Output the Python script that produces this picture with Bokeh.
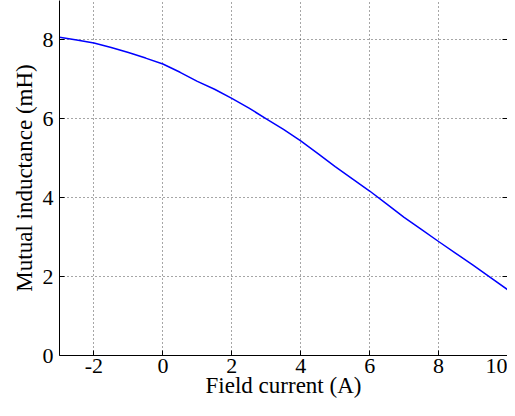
from bokeh.plotting import figure
from bokeh.models import LinearAxis, Range1d, FixedTicker
from bokeh.embed import file_html
from bokeh.resources import INLINE

# Field current (A)
current = [-3.0, -2.5, -2.0, -1.5, -1.0, -0.5, 0.0, 0.5, 1.0, 1.5, 2.0, 2.5, 3.0,
           3.5, 4.0, 4.5, 5.0, 5.5, 6.0, 6.5, 7.0, 7.5, 8.0, 8.5, 9.0, 9.5, 10.0]
# Mutual inductance (mH)
inductance = [8.07, 8.00, 7.92, 7.81, 7.68, 7.54, 7.39, 7.18, 6.95, 6.75, 6.52, 6.27, 6.00,
              5.73, 5.44, 5.12, 4.79, 4.48, 4.17, 3.84, 3.50, 3.20, 2.89, 2.59, 2.29, 1.98, 1.67]

x_ticks = [-2, 0, 2, 4, 6, 8, 10]
x_tick_labels = {-2: "-2", 0: "0", 2: "2", 4: "4", 6: "6", 8: "8", 10: "10"}
y_ticks = [0, 2, 4, 6, 8]

FONT = "Liberation Serif"

p = figure(width=507, height=400, output_backend="svg", toolbar_location=None,
           x_range=Range1d(-3, 10), y_range=Range1d(0, 9.0),
           min_border_left=59, min_border_right=0, min_border_top=0, min_border_bottom=40)
p.outline_line_color = None
p.background_fill_color = "white"
p.border_fill_color = "white"

p.line(current, inductance, line_color="#0000ff", line_width=1.5)

for ax in (p.xaxis[0], p.yaxis[0]):
    ax.major_tick_in = 5
    ax.major_tick_out = 0
    ax.minor_tick_line_color = None
    ax.axis_line_color = "black"
    ax.major_tick_line_color = "black"
    ax.major_label_text_font = FONT
    ax.major_label_text_font_size = "22px"
    ax.major_label_text_color = "black"
    ax.axis_label_text_font = FONT
    ax.axis_label_text_font_size = "23px"
    ax.axis_label_text_font_style = "normal"
    ax.axis_label_text_color = "black"

p.xaxis[0].ticker = FixedTicker(ticks=x_ticks)
p.xaxis[0].major_label_overrides = x_tick_labels
p.yaxis[0].ticker = FixedTicker(ticks=y_ticks)
p.xaxis[0].axis_label = "Field current (A)"
p.yaxis[0].axis_label = "Mutual inductance (mH)"
p.xaxis[0].major_label_standoff = 3
p.xaxis[0].axis_label_standoff = -3
p.yaxis[0].major_label_standoff = 6
p.yaxis[0].axis_label_standoff = 3

right = LinearAxis(ticker=FixedTicker(ticks=y_ticks), major_label_text_font_size="0px",
                   major_label_standoff=0, major_tick_in=5, major_tick_out=0,
                   minor_tick_line_color=None, axis_line_color="black",
                   major_label_text_color=None)
p.add_layout(right, "right")

for g, t in ((p.xgrid[0], x_ticks), (p.ygrid[0], y_ticks)):
    g.ticker = FixedTicker(ticks=t)
    g.grid_line_color = "black"
    g.grid_line_dash = "1 3"
    g.grid_line_alpha = 0.7

open("out.html", "w").write(file_html(p, INLINE))
